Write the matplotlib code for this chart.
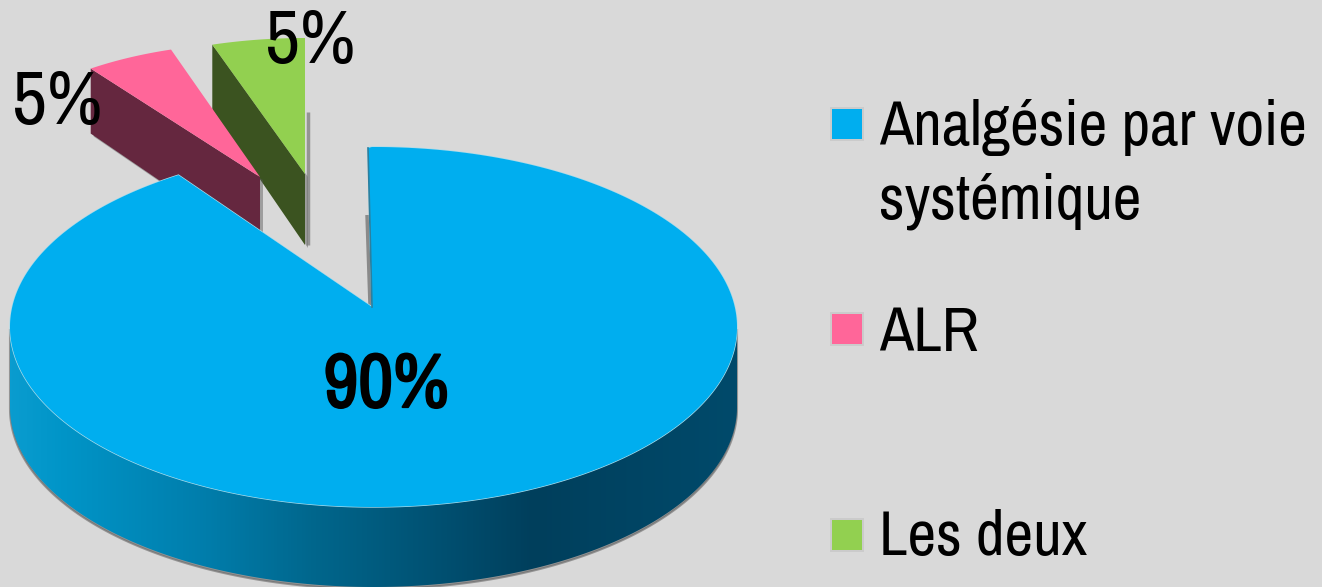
import numpy as np
import matplotlib
matplotlib.use("Agg")
import matplotlib.pyplot as plt
import matplotlib.patheffects as pe
from matplotlib.colors import LinearSegmentedColormap
from matplotlib.patches import Polygon, Rectangle

# Share of each analgesia technique, in percent
categories = ["Analgésie par voie\nsystémique", "ALR", "Les deux"]
values = [90, 5, 5]
value_labels = ["90%", "5%", "5%"]

top_colors = ["#00aeef", "#ff6699", "#92d050"]
wall_colors = ["#004766", "#65273f", "#3b5320"]
background = "#d9d9d9"
font_stack = ["Archivo Narrow", "Liberation Sans"]

W, H = 1322, 587
fig = plt.figure(figsize=(W / 100, H / 100), dpi=100, facecolor=background)
ax = fig.add_axes([0, 0, 1, 1])
ax.set_xlim(0, W)
ax.set_ylim(H, 0)
ax.axis("off")

# Angles run clockwise from twelve o'clock
edges = np.cumsum([0] + values) / sum(values) * 360.0
spans = list(zip(edges[:-1], edges[1:]))


def ellipse_arc(apex, rx, ry, start, stop, n=120):
    t = np.radians(np.linspace(start, stop, n))
    return np.column_stack([apex[0] + rx * np.sin(t), apex[1] - ry * np.cos(t)])


def rim_from_apex(apex, centre, rx, ry, start, stop, n=400):
    """Cast rays from an off-centre apex onto the rim ellipse (gives the foreshortened look)."""
    t = np.radians(np.linspace(start, stop, n))
    dx, dy = rx * np.sin(t), -ry * np.cos(t)
    ox, oy = apex[0] - centre[0], apex[1] - centre[1]
    a = (dx / rx) ** 2 + (dy / ry) ** 2
    b = 2 * (ox * dx / rx**2 + oy * dy / ry**2)
    c = (ox / rx) ** 2 + (oy / ry) ** 2 - 1
    s = (-b + np.sqrt(b**2 - 4 * a * c)) / (2 * a)
    return np.column_stack([apex[0] + s * dx, apex[1] + s * dy])


def draw_slice(index, apex, rx, ry, rim_depth, apex_depth, z, shadow_rise=0):
    start, stop = spans[index]
    rim = ellipse_arc(apex, rx, ry, start, stop)
    a = np.array(apex, float)
    left = rim[0]
    # cut wall seen from the front, with its soft drop shadow
    wall = np.array([left, a, a + [0, apex_depth], left + [0, rim_depth]])
    ax.add_patch(Polygon(wall + [3, 3], closed=True, fc="#555555", ec="none", alpha=0.45, zorder=z))
    if shadow_rise:
        ax.plot([a[0] + 3, a[0] + 3], [a[1] - shadow_rise, a[1] + apex_depth], color="#777777",
                lw=2.5, alpha=0.7, zorder=z, solid_capstyle="butt")
    ax.add_patch(Polygon(wall, closed=True, fc=wall_colors[index], ec="none", zorder=z + 0.1))
    ax.add_patch(Polygon(np.vstack([a, rim]), closed=True, fc=top_colors[index], ec="none", zorder=z + 0.2))


# Detached slices, back to front
draw_slice(2, (305, 174), 300, 136, 65, 71, 2, shadow_rise=62)
draw_slice(1, (260, 177), 288, 134, 65, 72, 3)

# Large slice: rim, thick side with horizontal shading, cut edge
centre, apex = (373.5, 327), (372, 307)
RX, RY, depth = 363.5, 180, 80
start, stop = spans[0]
rim = rim_from_apex(apex, centre, RX, RY, start, stop)
lean = rim[0] - [4, -1]  # the cut edge tilts slightly left towards the rim
face = np.vstack([apex, lean, rim])

front = ellipse_arc(centre, RX, RY, 90, 270, 300)
side = np.vstack([front, (front + [0, depth])[::-1]])
ax.add_patch(Polygon(side + [0, 2], closed=True, fc="#666666", ec="#666666", lw=1.5, alpha=0.6, zorder=4))

shade = LinearSegmentedColormap.from_list(
    "side_shade",
    [(0.0, "#0a9ccf"), (0.07, "#0095c8"), (0.27, "#007dab"), (0.42, "#00668c"),
     (0.60, "#004f70"), (0.72, "#003f5c"), (1.0, "#004a6b")],
)
ramp = np.linspace(0, 1, 512).reshape(1, -1)
img = ax.imshow(ramp, cmap=shade, aspect="auto",
                extent=(centre[0] - RX, centre[0] + RX, H + 20, centre[1] - 10),
                zorder=4.1)
ax.set_xlim(0, W)
ax.set_ylim(H, 0)
img.set_clip_path(Polygon(side, closed=True, transform=ax.transData))

# Pale highlight along the top rim and the dark cut edge by the gap
ax.add_patch(Polygon(face, closed=True, fc=top_colors[0], ec="#a9dbea", lw=1.0, zorder=5))
ax.add_patch(Polygon(face, closed=True, fc=top_colors[0], ec="none", zorder=5.1))
ax.plot([lean[0] - 1, apex[0] - 2], [215, apex[1] - 2], color="#777777", lw=2.5, alpha=0.8, zorder=4.9,
        solid_capstyle="butt")
ax.plot([lean[0], apex[0]], [lean[1], apex[1]], color="#2d7f9e", lw=1.2, zorder=5.2)

# Value labels
ax.text(386, 407, value_labels[0], fontsize=55, family=font_stack, ha="center", va="baseline", zorder=8,
        path_effects=[pe.withStroke(linewidth=1.6, foreground="black")])
ax.text(57, 124, value_labels[1], fontsize=55, family=font_stack, ha="center", va="baseline", zorder=8)
ax.text(310, 63, value_labels[2], fontsize=55, family=font_stack, ha="center", va="baseline", zorder=8)

# Legend keys with their grey frames, and entries
key_tops = [109, 314, 520]
baselines = [145, 351, 555]
for name, colour, ky, base in zip(categories, top_colors, key_tops, baselines):
    ax.add_patch(Rectangle((830, ky - 2), 34, 34, fc="#cbcbcb", ec="none", zorder=6))
    ax.add_patch(Rectangle((832, ky), 30, 30, fc=colour, ec="none", zorder=6.1))
    lines = name.split("\n")
    for i, line in enumerate(lines):
        ax.text(879, base + i * 73, line, fontsize=45, family=font_stack,
                ha="left", va="baseline", color="black", zorder=8)

fig.savefig("out.png", dpi=100, facecolor=background)
